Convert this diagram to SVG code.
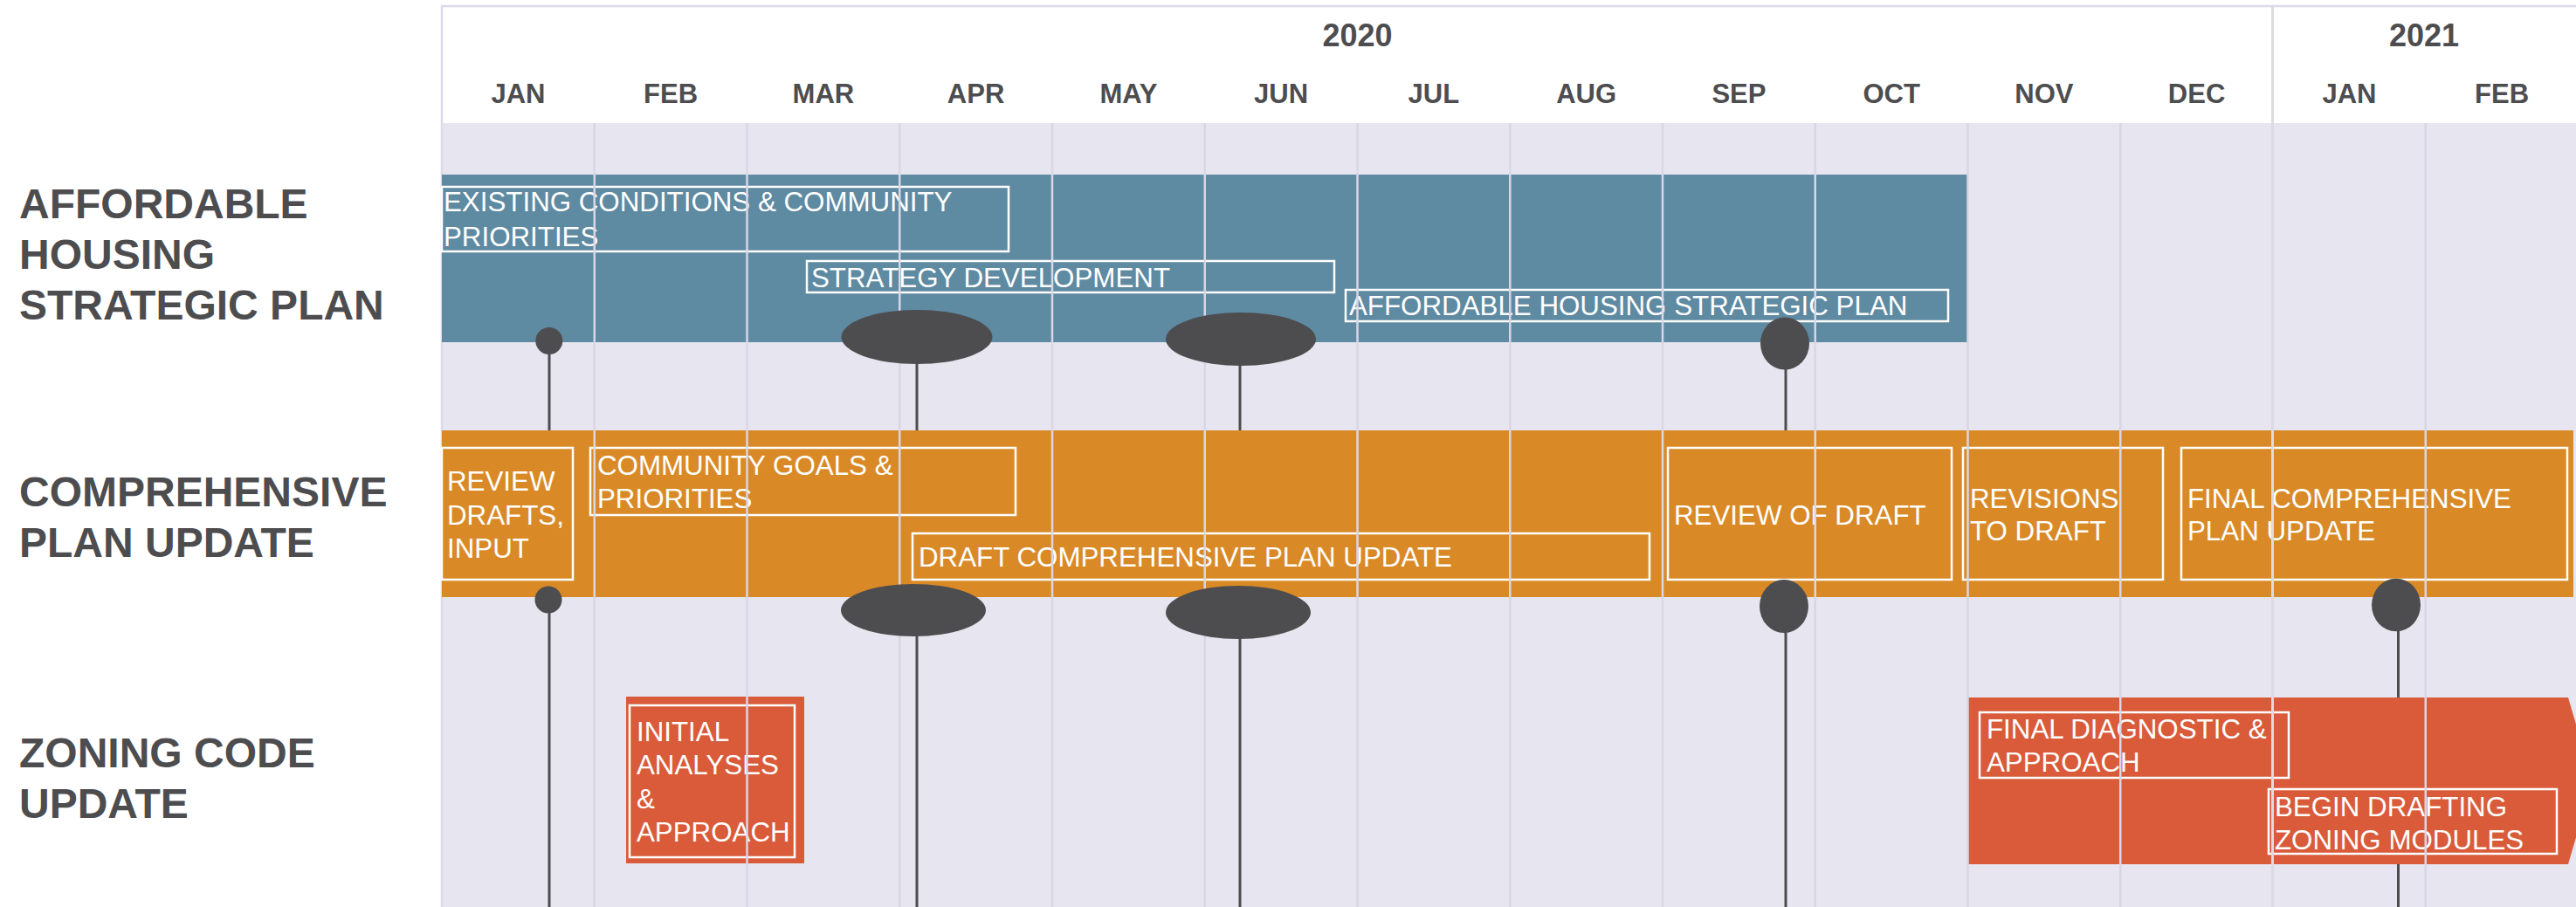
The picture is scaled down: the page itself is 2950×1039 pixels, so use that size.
<svg xmlns="http://www.w3.org/2000/svg" width="2950" height="1039" viewBox="0 0 2950 1039">
  <style>
    .hdr { font-family: "Liberation Sans", Arial, sans-serif; font-weight: bold; fill: #4d4d4f; text-anchor: middle; }
    .month { font-size: 31px; }
    .year { font-size: 36px; }
    .rowlabel { font-family: "Liberation Sans", Arial, sans-serif; font-weight: bold; font-size: 48px; fill: #4d4d4f; }
    .task { font-family: "Liberation Sans", Arial, sans-serif; font-size: 31.3px; fill: #ffffff; }
    .box { fill: none; stroke: #ffffff; stroke-width: 2.5; }
    .grid { stroke: #d9d6e6; stroke-width: 2.5; }
    .stem { stroke: #4d4d4f; stroke-width: 3; }
    .ms { fill: #4d4d4f; }
    .blue { fill: #5e8aa2; }
    .orange { fill: #d98a27; }
    .red { fill: #d95b3a; }
  </style>

  <!-- canvas -->
  <rect x="0" y="0" width="2950" height="1039" fill="#ffffff"/>
  <rect x="506" y="141" width="2444" height="898" fill="#e7e5ef"/>

  <!-- timeline frame -->
  <g id="frame">
    <line x1="505" y1="7" x2="2950" y2="7" stroke="#dcd9ea" stroke-width="2.5"/>
    <line x1="506" y1="6" x2="506" y2="1039" stroke="#dcd9ea" stroke-width="2.5"/>
  </g>

  <!-- milestone stems -->
  <g id="connectors">
    <line class="stem" x1="629" y1="391" x2="629" y2="1039"/>
    <line class="stem" x1="1050" y1="386" x2="1050" y2="1039"/>
    <line class="stem" x1="1420" y1="388" x2="1420" y2="1039"/>
    <line class="stem" x1="2045" y1="393" x2="2045" y2="1039"/>
    <line class="stem" x1="2746.5" y1="693" x2="2746.5" y2="1039"/>
  </g>

  <!-- phase bars -->
  <g id="bar-affordable-housing">
    <rect class="blue" x="506" y="200" width="1747" height="192"/>
  </g>
  <g id="bar-comprehensive-plan">
    <rect class="orange" x="506" y="493" width="2441" height="191"/>
  </g>
  <g id="bar-zoning-initial">
    <rect class="red" x="717" y="798" width="204" height="191"/>
  </g>
  <g id="bar-zoning-final">
    <polygon class="red" points="2253,799 2941,799 2969,894.5 2941,990 2253,990"/>
  </g>

  <!-- tasks: affordable housing strategic plan -->
  <g id="task-existing-conditions">
    <rect class="box" x="506" y="214" width="649" height="74"/>
    <text class="task" x="508" y="242">EXISTING CONDITIONS &amp; COMMUNITY</text>
    <text class="task" x="508" y="282">PRIORITIES</text>
  </g>
  <g id="task-strategy-development">
    <rect class="box" x="924" y="299" width="604" height="36"/>
    <text class="task" x="929" y="329">STRATEGY DEVELOPMENT</text>
  </g>
  <g id="task-ah-strategic-plan">
    <rect class="box" x="1541" y="332" width="690" height="36"/>
    <text class="task" x="1545" y="361">AFFORDABLE HOUSING STRATEGIC PLAN</text>
  </g>

  <!-- tasks: comprehensive plan update -->
  <g id="task-review-drafts">
    <rect class="box" x="506" y="513" width="150" height="151"/>
    <text class="task" x="512" y="562">REVIEW</text>
    <text class="task" x="512" y="601">DRAFTS,</text>
    <text class="task" x="512" y="639">INPUT</text>
  </g>
  <g id="task-community-goals">
    <rect class="box" x="676" y="513" width="487" height="77"/>
    <text class="task" x="684" y="544">COMMUNITY GOALS &amp;</text>
    <text class="task" x="684" y="582">PRIORITIES</text>
  </g>
  <g id="task-draft-comp-plan">
    <rect class="box" x="1045" y="611" width="844" height="53"/>
    <text class="task" x="1052" y="649">DRAFT COMPREHENSIVE PLAN UPDATE</text>
  </g>
  <g id="task-review-of-draft">
    <rect class="box" x="1910" y="513" width="325" height="151"/>
    <text class="task" x="1917" y="601">REVIEW OF DRAFT</text>
  </g>
  <g id="task-revisions">
    <rect class="box" x="2248" y="513" width="229" height="151"/>
    <text class="task" x="2256" y="582">REVISIONS</text>
    <text class="task" x="2256" y="619">TO DRAFT</text>
  </g>
  <g id="task-final-comp-plan">
    <rect class="box" x="2498" y="513" width="442" height="151"/>
    <text class="task" x="2505" y="582">FINAL COMPREHENSIVE</text>
    <text class="task" x="2505" y="619">PLAN UPDATE</text>
  </g>

  <!-- tasks: zoning code update -->
  <g id="task-initial-analyses">
    <rect class="box" x="721" y="808" width="189" height="174"/>
    <text class="task" x="729" y="849">INITIAL</text>
    <text class="task" x="729" y="887">ANALYSES</text>
    <text class="task" x="729" y="926">&amp;</text>
    <text class="task" x="729" y="964">APPROACH</text>
  </g>
  <g id="task-final-diagnostic">
    <rect class="box" x="2267" y="816" width="354" height="75"/>
    <text class="task" x="2275" y="846">FINAL DIAGNOSTIC &amp;</text>
    <text class="task" x="2275" y="884">APPROACH</text>
  </g>
  <g id="task-begin-drafting">
    <rect class="box" x="2598" y="904" width="330" height="74"/>
    <text class="task" x="2605" y="935">BEGIN DRAFTING</text>
    <text class="task" x="2605" y="973">ZONING MODULES</text>
  </g>

  <!-- month grid -->
  <g id="grid">
    <line class="grid" x1="680.75" y1="141" x2="680.75" y2="1039"/>
    <line class="grid" x1="855.5" y1="141" x2="855.5" y2="1039"/>
    <line class="grid" x1="1030.25" y1="141" x2="1030.25" y2="1039"/>
    <line class="grid" x1="1205" y1="141" x2="1205" y2="1039"/>
    <line class="grid" x1="1379.75" y1="141" x2="1379.75" y2="1039"/>
    <line class="grid" x1="1554.5" y1="141" x2="1554.5" y2="1039"/>
    <line class="grid" x1="1729.25" y1="141" x2="1729.25" y2="1039"/>
    <line class="grid" x1="1904" y1="141" x2="1904" y2="1039"/>
    <line class="grid" x1="2078.75" y1="141" x2="2078.75" y2="1039"/>
    <line class="grid" x1="2253.5" y1="141" x2="2253.5" y2="1039"/>
    <line class="grid" x1="2428.25" y1="141" x2="2428.25" y2="1039"/>
    <line class="grid" x1="2777.75" y1="141" x2="2777.75" y2="1039"/>
    <line x1="2602.5" y1="7" x2="2602.5" y2="1039" stroke="#dcdae3" stroke-width="3"/>
  </g>

  <!-- milestones -->
  <g id="milestones-row1">
    <ellipse class="ms" cx="628.8" cy="390.5" rx="15.5" ry="15.5"/>
    <ellipse class="ms" cx="1050" cy="386" rx="86.5" ry="31"/>
    <ellipse class="ms" cx="1421" cy="388.5" rx="86" ry="30.5"/>
    <ellipse class="ms" cx="2044" cy="393.5" rx="28" ry="30"/>
  </g>
  <g id="milestones-row2">
    <ellipse class="ms" cx="628" cy="687" rx="15.5" ry="15.5"/>
    <ellipse class="ms" cx="1046" cy="699" rx="83" ry="30"/>
    <ellipse class="ms" cx="1418" cy="701.5" rx="83" ry="30.5"/>
    <ellipse class="ms" cx="2043" cy="694.5" rx="28" ry="30.5"/>
    <ellipse class="ms" cx="2744" cy="693" rx="28" ry="30.3"/>
  </g>

  <!-- header -->
  <g id="header">
    <text class="hdr year" x="1554.5" y="53">2020</text>
    <text class="hdr year" x="2776" y="53">2021</text>
    <text class="hdr month" x="593.4" y="118">JAN</text>
    <text class="hdr month" x="768.1" y="118">FEB</text>
    <text class="hdr month" x="942.9" y="118">MAR</text>
    <text class="hdr month" x="1117.6" y="118">APR</text>
    <text class="hdr month" x="1292.4" y="118">MAY</text>
    <text class="hdr month" x="1467.1" y="118">JUN</text>
    <text class="hdr month" x="1641.9" y="118">JUL</text>
    <text class="hdr month" x="1816.6" y="118">AUG</text>
    <text class="hdr month" x="1991.4" y="118">SEP</text>
    <text class="hdr month" x="2166.1" y="118">OCT</text>
    <text class="hdr month" x="2340.9" y="118">NOV</text>
    <text class="hdr month" x="2515.6" y="118">DEC</text>
    <text class="hdr month" x="2690.4" y="118">JAN</text>
    <text class="hdr month" x="2865.1" y="118">FEB</text>
  </g>

  <!-- row labels -->
  <g id="label-affordable-housing">
    <text class="rowlabel" x="22" y="250">AFFORDABLE</text>
    <text class="rowlabel" x="22" y="308">HOUSING</text>
    <text class="rowlabel" x="22" y="366">STRATEGIC PLAN</text>
  </g>
  <g id="label-comprehensive-plan">
    <text class="rowlabel" x="22" y="580">COMPREHENSIVE</text>
    <text class="rowlabel" x="22" y="638">PLAN UPDATE</text>
  </g>
  <g id="label-zoning-code">
    <text class="rowlabel" x="22" y="879">ZONING CODE</text>
    <text class="rowlabel" x="22" y="937">UPDATE</text>
  </g>
</svg>
